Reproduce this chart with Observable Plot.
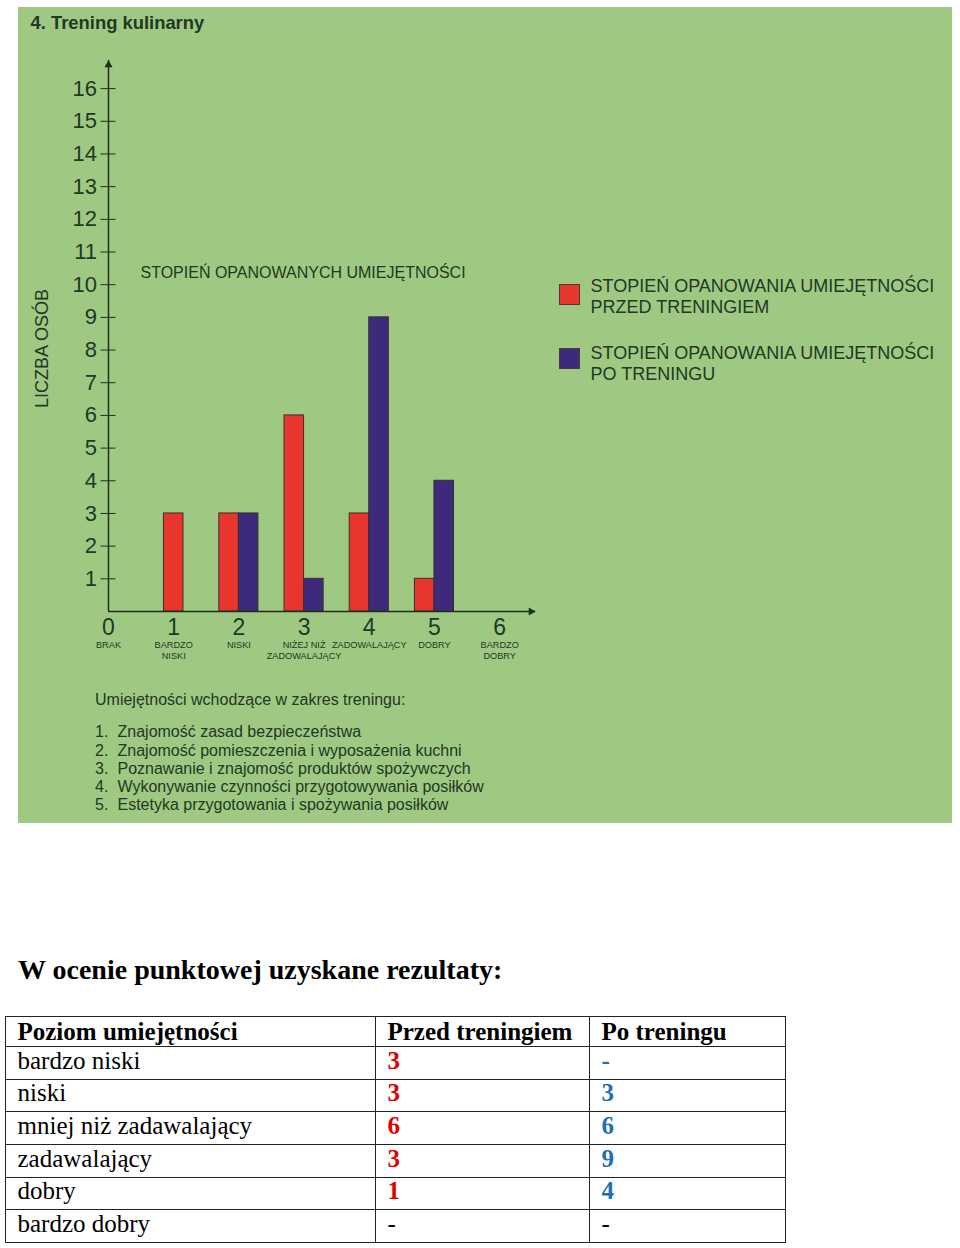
<!DOCTYPE html>
<html>
<head>
<meta charset="utf-8">
<script src="https://cdn.jsdelivr.net/npm/d3@7"></script>
<script src="https://cdn.jsdelivr.net/npm/@observablehq/plot@0.6"></script>
<style>
  body { margin: 0; width: 960px; height: 1248px; background: #fff; position: relative; overflow: hidden;
         font-family: "Liberation Sans", Arial, sans-serif; }
  #panel { position: absolute; left: 18px; top: 7px; width: 934px; height: 816px; background: #9fc983; overflow: hidden; }
  #panel svg { position: absolute; left: 0; top: 0; }
  .t { position: absolute; white-space: nowrap; line-height: 1; color: #233823; }
  .sw { position: absolute; width: 20px; height: 20px; box-sizing: border-box; border: 1px solid #4a3a3a; }
  #tbl { position: absolute; left: 5px; top: 1016px; display: grid;
         grid-template-columns: 370px 214px 196px; grid-template-rows: 30px repeat(6, 32.7px);
         border-left: 1.5px solid #222; border-top: 1.5px solid #222;
         font-family: "Liberation Serif", "Times New Roman", serif; font-size: 25px; color: #000; }
  #tbl div { border-right: 1.5px solid #222; border-bottom: 1.5px solid #222; padding-left: 11.5px;
             line-height: 1; white-space: nowrap; overflow: hidden; }
</style>
</head>
<body>
<div id="panel"></div>
<script>
// ---------- data ----------
const chartTitle = "4. Trening kulinarny";
const categories = [0, 1, 2, 3, 4, 5, 6];
const categoryNames = ["BRAK", "BARDZO\nNISKI", "NISKI", "NIŻEJ NIŻ\nZADOWALAJĄCY", "ZADOWALAJĄCY", "DOBRY", "BARDZO\nDOBRY"];
const beforeTraining = [0, 3, 3, 6, 3, 1, 0];
const afterTraining  = [0, 0, 3, 1, 9, 4, 0];
const yTicks = [1, 2, 3, 4, 5, 6, 7, 8, 9, 10, 11, 12, 13, 14, 15, 16];
const yLabel = "LICZBA OSÓB";
const xTitle = "STOPIEŃ OPANOWANYCH UMIEJĘTNOŚCI";
const seriesNames = ["before", "after"];
const legendLines = [["STOPIEŃ OPANOWANIA UMIEJĘTNOŚCI", "PRZED TRENINGIEM"],
                     ["STOPIEŃ OPANOWANIA UMIEJĘTNOŚCI", "PO TRENINGU"]];
const notesHeader = "Umiejętności wchodzące w zakres treningu:";
const notes = ["Znajomość zasad bezpieczeństwa",
               "Znajomość pomieszczenia i wyposażenia kuchni",
               "Poznawanie i znajomość produktów spożywczych",
               "Wykonywanie czynności przygotowywania posiłków",
               "Estetyka przygotowania i spożywania posiłków"];
const tableTitle = "W ocenie punktowej uzyskane rezultaty:";
const tableHeader = ["Poziom umiejętności", "Przed treningiem", "Po treningu"];
const tableLevels = ["bardzo niski", "niski", "mniej niż zadawalający", "zadawalający", "dobry", "bardzo dobry"];
const tableBefore = ["3", "3", "6", "3", "1", "-"];
const tableAfter  = ["-", "3", "6", "9", "4", "-"];
const tablePlain  = [false, false, false, false, false, true];

// ---------- styles ----------
const colors = {before: "#e8362f", after: "#3e2a7c"};
const inkColor = "#233823";
const axisColor = "#1f2f1f";
const xMax = 6.55, yMax = 16.86;
const barW = 0.3;

// ---------- bars ----------
const bars = [];
categories.forEach((c, i) => {
  const b = beforeTraining[i], a = afterTraining[i];
  if (b > 0 && a > 0) {
    bars.push({cat: c, series: "before", value: b, x1: c - barW, x2: c});
    bars.push({cat: c, series: "after", value: a, x1: c, x2: c + barW});
  } else if (b > 0) {
    bars.push({cat: c, series: "before", value: b, x1: c - barW / 2, x2: c + barW / 2});
  } else if (a > 0) {
    bars.push({cat: c, series: "after", value: a, x1: c - barW / 2, x2: c + barW / 2});
  }
});
const catRows = categories.map((c, i) => ({cat: c, name: categoryNames[i]}));

const W = 934, H = 816, mL = 90, mR = 417, mT = 53, mB = 212;
const frameW = W - mL - mR;

const chart = Plot.plot({
  width: W, height: H,
  marginLeft: mL, marginRight: mR, marginTop: mT, marginBottom: mB,
  x: {domain: [0, xMax]},
  y: {domain: [0, yMax]},
  style: {background: "transparent", fontFamily: "Liberation Sans, Arial, sans-serif", color: inkColor, overflow: "visible"},
  marks: [
    Plot.rectY(bars, {x1: "x1", x2: "x2", y: "value", fill: d => colors[d.series], stroke: "#3b2e2e", strokeWidth: 1}),
    Plot.ruleX([0], {y1: 0, y2: yMax, stroke: axisColor, strokeWidth: 1.5}),
    Plot.ruleY([0], {x1: 0, x2: xMax, stroke: axisColor, strokeWidth: 1.5}),
    Plot.dot([{x: 0, y: yMax}], {x: "x", y: "y", symbol: "triangle", r: 3, fill: axisColor, stroke: null, dy: 4.5}),
    Plot.dot([{x: xMax, y: 0}], {x: "x", y: "y", symbol: "triangle", rotate: 90, r: 3, fill: axisColor, stroke: null, dx: -4.5}),
    Plot.axisY({ticks: yTicks, tickSize: 7.5, tickPadding: 4, fontSize: 22, label: null, stroke: axisColor, fill: inkColor,
                tickFormat: d => String(d)}),
    Plot.tickY(yTicks, {y: d => d, insetRight: frameW - 7.5, stroke: axisColor}),
    Plot.axisX({ticks: categories, tickSize: 0, tickPadding: 7, fontSize: 23, label: null, fill: inkColor,
                tickFormat: d => String(d)}),
    Plot.text(catRows, {x: "cat", text: "name", frameAnchor: "bottom", dy: 28.5, lineAnchor: "top",
                        fontSize: 9.2, lineHeight: 1.2, fill: inkColor})
  ]
});
const panel = document.getElementById("panel");
panel.appendChild(chart);

// ---------- text helpers ----------
function place(parent, text, x, baseline, size, opts = {}) {
  const el = document.createElement("div");
  el.className = "t";
  el.textContent = text;
  const asc = opts.serif ? 0.8375 : 0.8465;
  el.style.left = x + "px";
  el.style.top = (baseline - asc * size) + "px";
  el.style.fontSize = size + "px";
  if (opts.weight) el.style.fontWeight = opts.weight;
  if (opts.serif) el.style.fontFamily = '"Liberation Serif", "Times New Roman", serif';
  if (opts.color) el.style.color = opts.color;
  parent.appendChild(el);
  return el;
}

place(panel, chartTitle, 12.5, 22.3, 18.4, {weight: "bold"});
place(panel, xTitle, 122.5, 271.3, 16);

// y label, rotated
const yl = place(panel, yLabel, 0, 0, 18);
yl.style.left = (30 - 0.8465 * 18) + "px";
yl.style.top = "401px";
yl.style.transformOrigin = "0 0";
yl.style.transform = "rotate(-90deg)";

// legend
const legendTop = [277, 341];
const legendBase = [[285.7, 306.3], [352.3, 372.8]];
seriesNames.forEach((s, i) => {
  const sw = document.createElement("div");
  sw.className = "sw";
  sw.style.left = "541px";
  sw.style.top = legendTop[i] + "px";
  sw.style.width = "21px";
  sw.style.height = "21px";
  sw.style.background = colors[s];
  panel.appendChild(sw);
  legendLines[i].forEach((line, j) => place(panel, line, 572.5, legendBase[i][j], 18));
});

// notes
place(panel, notesHeader, 77, 698.5, 16);
notes.forEach((n, i) => {
  const base = 731 + i * 18.1;
  place(panel, (i + 1) + ".", 77, base, 16);
  place(panel, n, 99.5, base, 16);
});

// ---------- table ----------
place(document.body, tableTitle, 18, 979, 28, {weight: "bold", serif: true, color: "#000"});
const tbl = document.createElement("div");
tbl.id = "tbl";
tableHeader.forEach(h => {
  const c = document.createElement("div");
  c.textContent = h;
  c.style.fontWeight = "bold";
  c.style.paddingTop = "2px";
  tbl.appendChild(c);
});
tableLevels.forEach((lvl, i) => {
  const c1 = document.createElement("div");
  c1.textContent = lvl;
  c1.style.paddingTop = "0.5px";
  tbl.appendChild(c1);
  [[tableBefore[i], "#e00000"], [tableAfter[i], "#1e6fb3"]].forEach(([v, col]) => {
    const c = document.createElement("div");
    c.textContent = v;
    c.style.paddingTop = "0.5px";
    if (!tablePlain[i]) { c.style.color = col; c.style.fontWeight = "bold"; }
    tbl.appendChild(c);
  });
});
document.body.appendChild(tbl);
</script>
</body>
</html>
